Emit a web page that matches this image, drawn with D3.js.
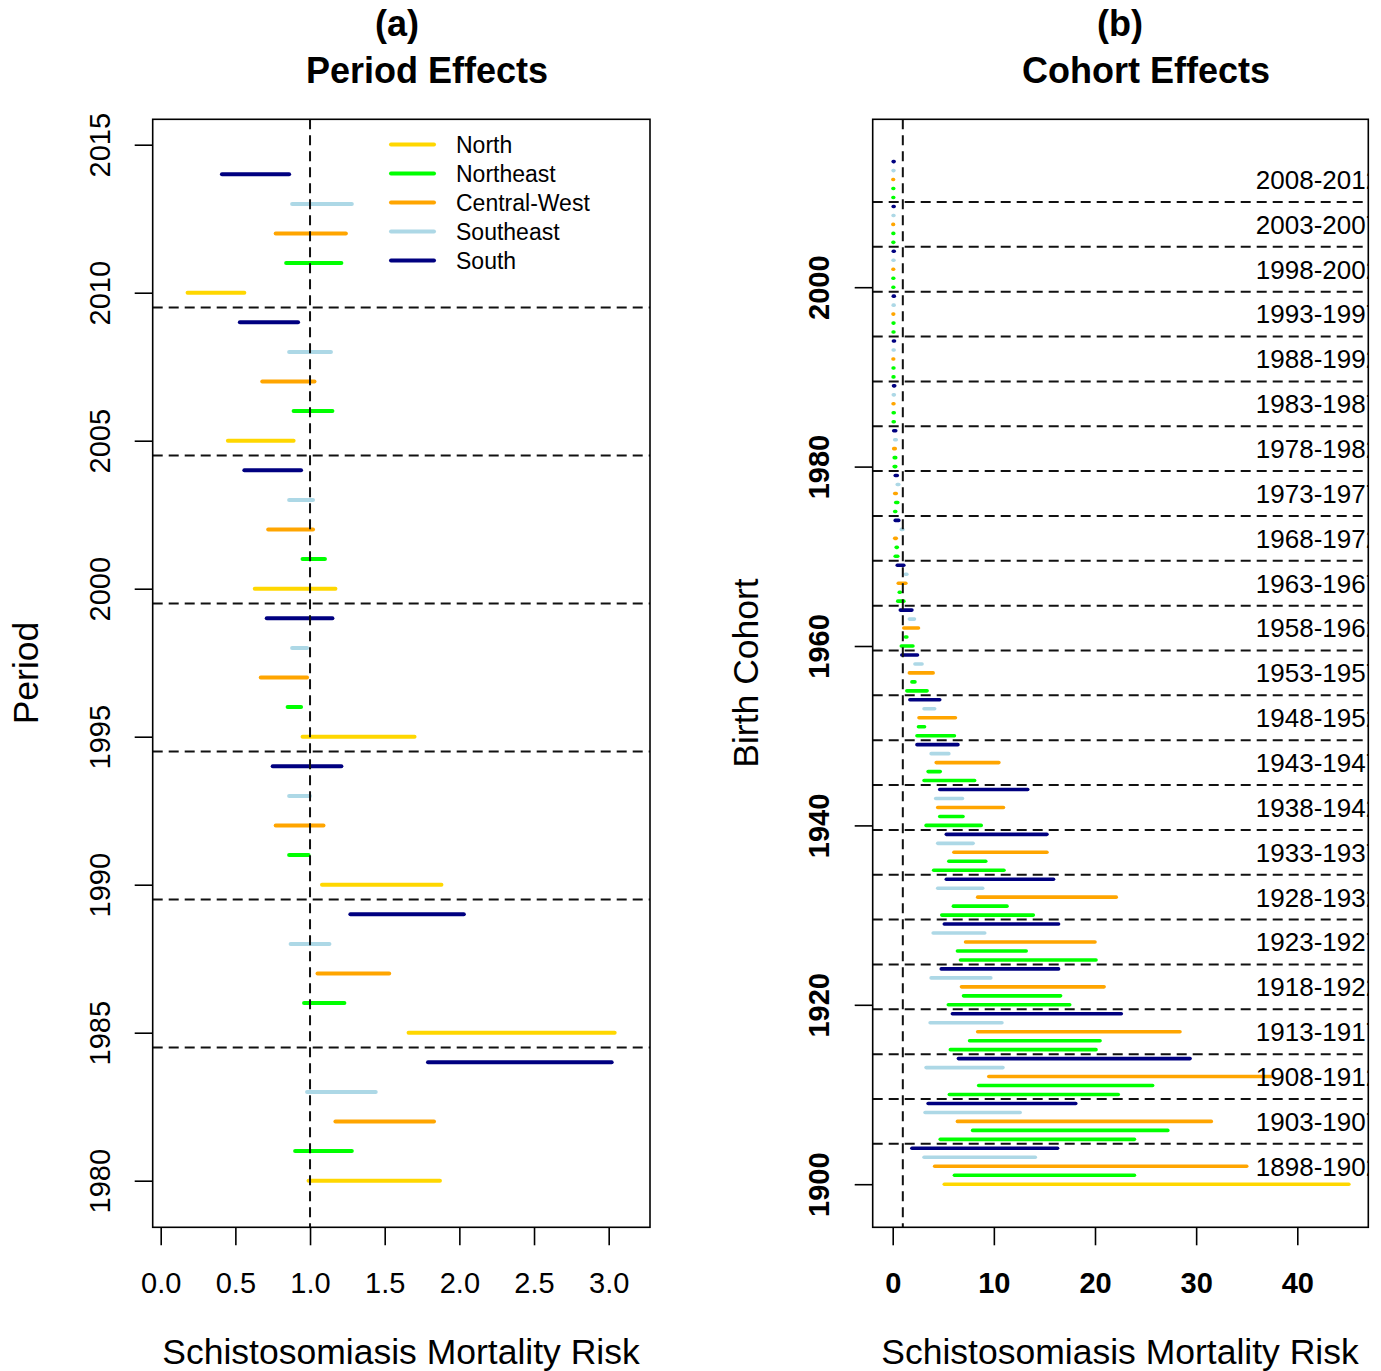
<!DOCTYPE html>
<html>
<head>
<meta charset="utf-8">
<script src="https://cdn.jsdelivr.net/npm/d3@7"></script>
<style>
  html, body { margin: 0; padding: 0; background: #fff; }
  svg { display: block; }
  text { font-family: "Liberation Sans", Arial, Helvetica, sans-serif; fill: #000; }
</style>
</head>
<body>
<svg id="chart" width="1381" height="1371"></svg>
<script>
// ---------------- DATA ----------------
const regions = ["North", "Northeast", "Central-West", "Southeast", "South"];
const regionColors = ["#FFD700", "#00FF00", "#FFA500", "#ADD8E6", "#000080"];

// Period effects: one interval per year 1980..2014 (5 regions per 5-year period)
const periodStart = 1980;
const periodLow = [
  0.99, 0.90, 1.17, 0.98, 1.79,
  1.66, 0.96, 1.05, 0.87, 1.27,
  1.08, 0.86, 0.77, 0.86, 0.75,
  0.95, 0.85, 0.67, 0.88, 0.71,
  0.63, 0.95, 0.72, 0.86, 0.56,
  0.45, 0.89, 0.68, 0.86, 0.53,
  0.18, 0.84, 0.77, 0.88, 0.41
];
const periodHigh = [
  1.87, 1.28, 1.83, 1.44, 3.02,
  3.04, 1.23, 1.53, 1.13, 2.03,
  1.88, 0.99, 1.09, 1.00, 1.21,
  1.70, 0.94, 0.98, 0.98, 1.15,
  1.17, 1.10, 1.02, 1.02, 0.94,
  0.89, 1.15, 1.03, 1.14, 0.92,
  0.56, 1.21, 1.24, 1.28, 0.86
];
const periodTicksY = [1980, 1985, 1990, 1995, 2000, 2005, 2010, 2015];
const periodTicksX = [0, 0.5, 1, 1.5, 2, 2.5, 3];

// Cohort effects: one interval per year 1900..2014
const cohortStart = 1900;
const cohortLow = [
  5.10, 6.10, 4.15, 3.10, 1.90,
  4.70, 7.90, 6.40, 3.20, 3.50,
  5.60, 8.50, 9.50, 3.30, 6.50,
  5.70, 7.60, 8.40, 3.70, 5.90,
  5.50, 7.00, 6.80, 3.80, 4.80,
  6.70, 6.40, 7.20, 4.00, 5.10,
  4.85, 6.00, 8.40, 4.45, 5.30,
  4.05, 5.55, 6.05, 4.45, 5.30,
  3.30, 4.65, 4.45, 4.25, 4.65,
  3.10, 3.50, 4.30, 3.80, 2.40,
  2.40, 2.55, 2.60, 3.10, 1.70,
  1.40, 1.90, 1.65, 2.20, 0.90,
  0.85, 1.25, 1.10, 1.65, 0.75,
  0.50, 0.65, 0.55, 1.25, 0.45,
  0.25, 0.35, 0.20, 0.85, 0.25,
  0.20, 0.30, 0.20, 0.45, 0.25,
  0.15, 0.15, 0.10, 0.20, 0.10,
  0.05, 0.05, 0.04, 0.06, 0.08,
  0.04, 0.04, 0.03, 0.05, 0.07,
  0.04, 0.04, 0.03, 0.05, 0.06,
  0.03, 0.03, 0.03, 0.04, 0.06,
  0.03, 0.03, 0.02, 0.04, 0.05,
  0.03, 0.03, 0.02, 0.04, 0.05
];
const cohortHigh = [
  45.10, 23.90, 35.00, 14.10, 16.30,
  23.90, 27.20, 31.50, 12.60, 18.10,
  22.30, 25.70, 37.50, 10.90, 29.40,
  20.10, 20.50, 28.40, 10.80, 22.60,
  17.50, 16.60, 20.90, 9.70, 16.40,
  20.10, 13.20, 20.00, 9.10, 16.40,
  13.90, 11.30, 22.10, 8.90, 15.90,
  11.00, 9.20, 15.25, 7.95, 15.25,
  8.75, 6.95, 10.95, 6.90, 13.35,
  8.10, 4.70, 10.50, 5.55, 6.45,
  6.10, 3.15, 6.20, 4.15, 4.65,
  3.40, 2.20, 4.00, 2.90, 2.45,
  2.00, 1.40, 2.55, 2.15, 1.90,
  1.10, 0.75, 1.30, 1.40, 1.10,
  0.50, 0.45, 0.35, 1.00, 0.60,
  0.30, 0.50, 0.35, 0.60, 0.45,
  0.30, 0.30, 0.25, 0.35, 0.30,
  0.15, 0.15, 0.12, 0.16, 0.20,
  0.12, 0.12, 0.10, 0.14, 0.18,
  0.12, 0.12, 0.10, 0.14, 0.16,
  0.10, 0.10, 0.09, 0.12, 0.15,
  0.10, 0.10, 0.08, 0.12, 0.14,
  0.10, 0.10, 0.08, 0.12, 0.14
];
const cohortGroups = [
  "1898-1902", "1903-1907", "1908-1912", "1913-1917", "1918-1922", "1923-1927",
  "1928-1932", "1933-1937", "1938-1942", "1943-1947", "1948-1952", "1953-1957",
  "1958-1962", "1963-1967", "1968-1972", "1973-1977", "1978-1982", "1983-1987",
  "1988-1992", "1993-1997", "1998-2002", "2003-2007", "2008-2012"
];
const cohortTicksY = [1900, 1920, 1940, 1960, 1980, 2000];
const cohortTicksX = [0, 10, 20, 30, 40];

// ---------------- LAYOUT ----------------
const svg = d3.select("#chart");
const FONT_TICK = 29, FONT_AXIS = 35.5, FONT_TITLE = 36;
const TICK_LEN = 18;
const dash = "10,6";
const DASH_COLOR = "#111";

const A = { x0: 152.7, x1: 650, y0: 119.3, y1: 1227.3 };
const B = { x0: 872.7, x1: 1368.3, y0: 119.3, y1: 1227.3 };

const xa = d3.scaleLinear().domain([0, 3]).range([160.7, 160.7 + 3 * 149.33]);
const ya = d3.scaleLinear().domain([1980, 2010]).range([1180.7, 292.7]);
const xb = d3.scaleLinear().domain([0, 40]).range([892.7, 1297.3]);
const yb = d3.scaleLinear().domain([1900, 2000]).range([1184.2, 287.2]);

function drawYAxis(g, scale, ticks, box, labelBaselineX, bold) {
  const ax = d3.axisLeft(scale).tickValues(ticks).tickSize(TICK_LEN).tickFormat(d3.format("d"));
  const gg = g.append("g").attr("transform", `translate(${box.x0},0)`).call(ax);
  gg.select(".domain").remove();
  gg.selectAll(".tick line").attr("stroke", "#000").attr("stroke-width", 1.6);
  gg.selectAll(".tick text")
    .attr("x", null).attr("dy", null)
    .attr("text-anchor", "middle")
    .attr("font-size", FONT_TICK)
    .attr("font-weight", bold ? "bold" : "normal")
    .attr("font-family", "Liberation Sans, Arial, sans-serif")
    .attr("fill", "#000")
    .attr("transform", `translate(${labelBaselineX - box.x0},0) rotate(-90)`);
}
function drawXAxis(g, scale, ticks, box, fmt, bold) {
  const ax = d3.axisBottom(scale).tickValues(ticks).tickSize(TICK_LEN).tickPadding(27).tickFormat(fmt);
  const gg = g.append("g").attr("transform", `translate(0,${box.y1})`).call(ax);
  gg.select(".domain").remove();
  gg.selectAll(".tick line").attr("stroke", "#000").attr("stroke-width", 1.6);
  gg.selectAll(".tick text")
    .attr("font-size", FONT_TICK)
    .attr("font-weight", bold ? "bold" : "normal")
    .attr("font-family", "Liberation Sans, Arial, sans-serif")
    .attr("fill", "#000");
}

// ---------------- PANEL A ----------------
const ga = svg.append("g");
const periodData = periodLow.map((lo, i) => ({ year: periodStart + i, lo, hi: periodHigh[i], r: i % 5 }));
ga.append("g").selectAll("line").data(periodData).join("line")
  .attr("x1", d => xa(d.lo)).attr("x2", d => xa(d.hi))
  .attr("y1", d => ya(d.year)).attr("y2", d => ya(d.year))
  .attr("stroke", d => regionColors[d.r]).attr("stroke-width", 4).attr("stroke-linecap", "round");

const periodBreaks = d3.range(1, periodData.length / 5).map(k => periodStart + 5 * k - 0.5);
ga.append("g").selectAll("line").data(periodBreaks).join("line")
  .attr("x1", A.x0).attr("x2", A.x1)
  .attr("y1", d => ya(d)).attr("y2", d => ya(d))
  .attr("stroke", DASH_COLOR).attr("stroke-width", 2).attr("stroke-dasharray", dash);
ga.append("line")
  .attr("x1", xa(1)).attr("x2", xa(1)).attr("y1", A.y0).attr("y2", A.y1)
  .attr("stroke", DASH_COLOR).attr("stroke-width", 2).attr("stroke-dasharray", dash);

ga.append("rect").attr("x", A.x0).attr("y", A.y0).attr("width", A.x1 - A.x0).attr("height", A.y1 - A.y0)
  .attr("fill", "none").attr("stroke", "#000").attr("stroke-width", 1.6);

drawYAxis(ga, ya, periodTicksY, A, 110, false);
drawXAxis(ga, xa, periodTicksX, A, d3.format(".1f"), false);

// legend
const leg = ga.append("g");
regions.forEach((name, i) => {
  const y = 144.5 + i * 29;
  leg.append("line").attr("x1", 391).attr("x2", 434).attr("y1", y).attr("y2", y)
    .attr("stroke", regionColors[i]).attr("stroke-width", 4).attr("stroke-linecap", "round");
  leg.append("text").attr("x", 456).attr("y", y).attr("dy", "0.35em")
    .attr("font-size", 23).text(name);
});

ga.append("text").attr("x", 397).attr("y", 36).attr("text-anchor", "middle")
  .attr("font-size", FONT_TITLE).attr("font-weight", "bold").text("(a)");
ga.append("text").attr("x", 427).attr("y", 82.5).attr("text-anchor", "middle")
  .attr("font-size", FONT_TITLE).attr("font-weight", "bold").text("Period Effects");
ga.append("text").attr("text-anchor", "middle").attr("font-size", FONT_AXIS)
  .attr("transform", `translate(38,673) rotate(-90)`).text("Period");
ga.append("text").attr("x", 401).attr("y", 1364).attr("text-anchor", "middle")
  .attr("font-size", FONT_AXIS).text("Schistosomiasis Mortality Risk");

// ---------------- PANEL B ----------------
const gb = svg.append("g");
svg.append("defs").append("clipPath").attr("id", "clipB")
  .append("rect").attr("x", B.x0).attr("y", B.y0).attr("width", B.x1 - B.x0).attr("height", B.y1 - B.y0);

// first North interval drawn in gold; later North intervals appear green in the original
const cohortData = cohortLow.map((lo, i) => ({
  year: cohortStart + i, lo, hi: cohortHigh[i],
  r: (i % 5 === 0 && i > 0) ? 1 : i % 5
}));
gb.append("g").selectAll("line").data(cohortData).join("line")
  .attr("x1", d => xb(d.lo)).attr("x2", d => xb(d.hi))
  .attr("y1", d => yb(d.year)).attr("y2", d => yb(d.year))
  .attr("stroke", d => regionColors[d.r]).attr("stroke-width", 3.6).attr("stroke-linecap", "round");

const cohortBreaks = d3.range(1, cohortGroups.length).map(k => cohortStart + 5 * k - 0.5);
gb.append("g").selectAll("line").data(cohortBreaks).join("line")
  .attr("x1", B.x0).attr("x2", B.x1)
  .attr("y1", d => yb(d)).attr("y2", d => yb(d))
  .attr("stroke", DASH_COLOR).attr("stroke-width", 2).attr("stroke-dasharray", dash);
gb.append("line")
  .attr("x1", xb(1)).attr("x2", xb(1)).attr("y1", B.y0).attr("y2", B.y1)
  .attr("stroke", DASH_COLOR).attr("stroke-width", 2).attr("stroke-dasharray", dash);

const labelX = 35.9;
gb.append("g").attr("clip-path", "url(#clipB)").selectAll("text").data(cohortGroups).join("text")
  .attr("x", xb(labelX)).attr("y", (d, k) => yb(cohortStart + 5 * k + 2)).attr("dy", "0.36em")
  .attr("font-size", 26).text(d => d);

gb.append("rect").attr("x", B.x0).attr("y", B.y0).attr("width", B.x1 - B.x0).attr("height", B.y1 - B.y0)
  .attr("fill", "none").attr("stroke", "#000").attr("stroke-width", 1.6);

drawYAxis(gb, yb, cohortTicksY, B, 829, true);
drawXAxis(gb, xb, cohortTicksX, B, d3.format("d"), true);

gb.append("text").attr("x", 1120).attr("y", 36).attr("text-anchor", "middle")
  .attr("font-size", FONT_TITLE).attr("font-weight", "bold").text("(b)");
gb.append("text").attr("x", 1146).attr("y", 82.5).attr("text-anchor", "middle")
  .attr("font-size", FONT_TITLE).attr("font-weight", "bold").text("Cohort Effects");
gb.append("text").attr("text-anchor", "middle").attr("font-size", FONT_AXIS)
  .attr("transform", `translate(758,673) rotate(-90)`).text("Birth Cohort");
gb.append("text").attr("x", 1120).attr("y", 1364).attr("text-anchor", "middle")
  .attr("font-size", FONT_AXIS).text("Schistosomiasis Mortality Risk");
</script>
</body>
</html>
